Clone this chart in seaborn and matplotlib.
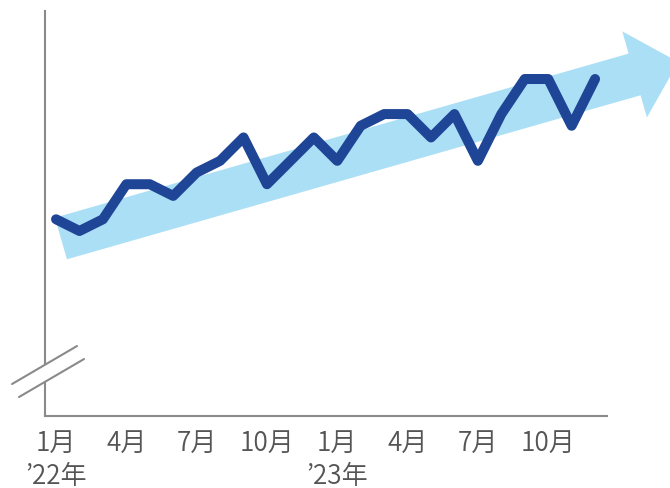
import pandas as pd
import matplotlib.pyplot as plt
import seaborn as sns

# monthly index, Jan '22 .. Dec '23 (axis is truncated, so units are relative)
months = list(range(24))
values = [11, 10, 11, 14, 14, 13, 15, 16, 18, 14, 16, 18,
          16, 19, 20, 20, 18, 20, 16, 20, 23, 23, 19, 23]
tick_pos = [0, 3, 6, 9, 12, 15, 18, 21]
tick_labels = ["1月\n’22年", "4月", "7月", "10月", "1月\n’23年", "4月", "7月", "10月"]

# trend arrow (start / tip in data units)
trend_start = (0.21, 9.36)
trend_tip = (26.55, 24.46)

LINE_COLOR = "#1f4597"
ARROW_COLOR = "#abdff6"
AXIS_COLOR = "#8a8a8a"
TEXT_COLOR = "#555555"

sns.set_style("white")
plt.rcParams["font.family"] = ["Noto Sans CJK JP", "DejaVu Sans"]

df = pd.DataFrame({"month": months, "value": values})

fig = plt.figure(figsize=(6.7, 4.89), dpi=100)
ax = fig.add_axes([0.0672, 0.1472, 0.8388, 0.8283])

# light blue trend arrow behind the line
ax.annotate("", xy=trend_tip, xytext=trend_start, annotation_clip=False,
            arrowprops=dict(arrowstyle="simple,head_length=32.7,head_width=64.5,tail_width=31.2",
                            mutation_scale=1, color=ARROW_COLOR, lw=0,
                            shrinkA=0, shrinkB=0), zorder=1)

sns.lineplot(data=df, x="month", y="value", ax=ax, color=LINE_COLOR, linewidth=7.2,
             solid_capstyle="round", solid_joinstyle="round", zorder=3)

ax.set_xlim(-0.47, 23.51)
ax.set_ylim(-5.83, 28.82)
ax.set_xticks(tick_pos)
ax.set_xticklabels(tick_labels, fontsize=18.8, color=TEXT_COLOR, linespacing=1.3,
                   fontweight=350)
ax.set_yticks([])
ax.tick_params(axis="x", length=0, pad=9)
ax.set_xlabel("")
ax.set_ylabel("")

for side in ["top", "right"]:
    ax.spines[side].set_visible(False)
for side in ["left", "bottom"]:
    ax.spines[side].set_color(AXIS_COLOR)
    ax.spines[side].set_linewidth(1.5)

# axis break mark on the y axis
b1 = [(-0.0587, 0.079), (0.0569, 0.1728)]
b2 = [(-0.0463, 0.0469), (0.0694, 0.1407)]
ax.fill([b1[0][0], b1[1][0], b2[1][0], b2[0][0]],
        [b1[0][1], b1[1][1], b2[1][1], b2[0][1]],
        color="white", transform=ax.transAxes, clip_on=False, zorder=4, lw=0)
for b in (b1, b2):
    ax.plot([b[0][0], b[1][0]], [b[0][1], b[1][1]], color=AXIS_COLOR, lw=1.5,
            transform=ax.transAxes, clip_on=False, zorder=5)

fig.savefig("out.png", dpi=100)
